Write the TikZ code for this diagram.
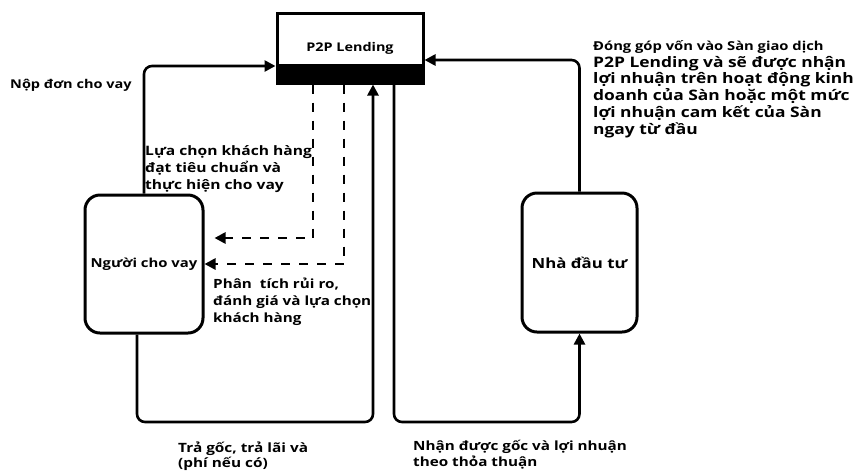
\documentclass[tikz,border=0pt]{standalone}
\usepackage{fontspec}
\setmainfont{Open Sans}[FakeStretch=1.2]
\usetikzlibrary{arrows.meta,calc}
\begin{document}
\begin{tikzpicture}[x=1pt,y=-1pt,
  arr/.style={line width=2.6pt,-{Triangle[length=11pt,width=11pt]}},
  darr/.style={line width=2.6pt,dash pattern=on 9pt off 9pt,-{Triangle[length=11pt,width=11pt]}},
  actor/.style={draw,line width=3pt,rounded corners=15pt,inner sep=0pt},
  lbl/.style={align=left,anchor=west,inner sep=0pt},
  fs/.style={font=\bfseries\fontsize{#1}{17}\selectfont}]
\fill[white] (0,0) rectangle (858,475);
\useasboundingbox (0,0) rectangle (858,475);
% nodes
\node[draw,line width=3pt,minimum width=146pt,minimum height=70pt,inner sep=0pt] (p2p) at (350,48) {};
\fill (p2p.south west) rectangle ([yshift=21pt]p2p.south east);
\node[fs=12] (p2pt) at (350,48) {P2P Lending};
\node[actor,fs=12.4,minimum width=118pt,minimum height=138pt] (lender) at (144,264) {Người cho vay};
\node[actor,fs=14,minimum width=115pt,minimum height=139pt] (investor) at (579.5,262.5) {Nhà đầu tư};
% helper coordinates
\coordinate (c1) at (373,422);
\coordinate (c2) at (394,422);
% connectors
\draw[arr,rounded corners=8pt] (lender.north) |- ($(p2p.west)+(0,18)$);
\draw[arr,rounded corners=8pt] (investor.north) |- ($(p2p.east)+(0,12)$);
\draw[darr] ([xshift=-37pt]p2p.south) |- ($(lender.east)+(10,-26)$);
\draw[darr] ([xshift=-6pt]p2p.south) |- (lender.east);
\draw[arr,rounded corners=8pt] ([xshift=-7pt]lender.south) |- (c1) -- ([xshift=23pt]p2p.south);
\draw[arr,rounded corners=8pt] ([xshift=44pt]p2p.south) -- (c2) -| (investor.south);
% labels
\node[lbl,fs=12.1] (l1) at (10,85) {Nộp đơn cho vay};
\node[lbl,fs=13] (l2) at (145,169) {Lựa chọn khách hàng\\đạt tiêu chuẩn và\\thực hiện cho vay};
\node[lbl,fs=12.7] (l3) at (213,302) {Phân\ \ tích rủi ro,\\đánh giá và lựa chọn\\khách hàng};
\node[lbl,font=\bfseries\fontsize{12.8}{15.5}\selectfont] (l4) at (178,456) {Trả gốc, trả lãi và\\(phí nếu có)};
\node[lbl,font=\bfseries\fontsize{12.7}{16}\selectfont] (l5) at (413,455) {Nhận được gốc và lợi nhuận\\theo thỏa thuận};
\node[lbl,font=\bfseries\fontsize{14.5}{16.7}\selectfont] (l6) at (593,89) {{\fontsize{12.3}{16.7}\selectfont Đóng góp vốn vào Sàn giao dịch}\\P2P Lending và sẽ được nhận\\lợi nhuận trên hoạt động kinh\\doanh của Sàn hoặc một mức\\lợi nhuận cam kết của Sàn\\ngay từ đầu};
\end{tikzpicture}
\end{document}
